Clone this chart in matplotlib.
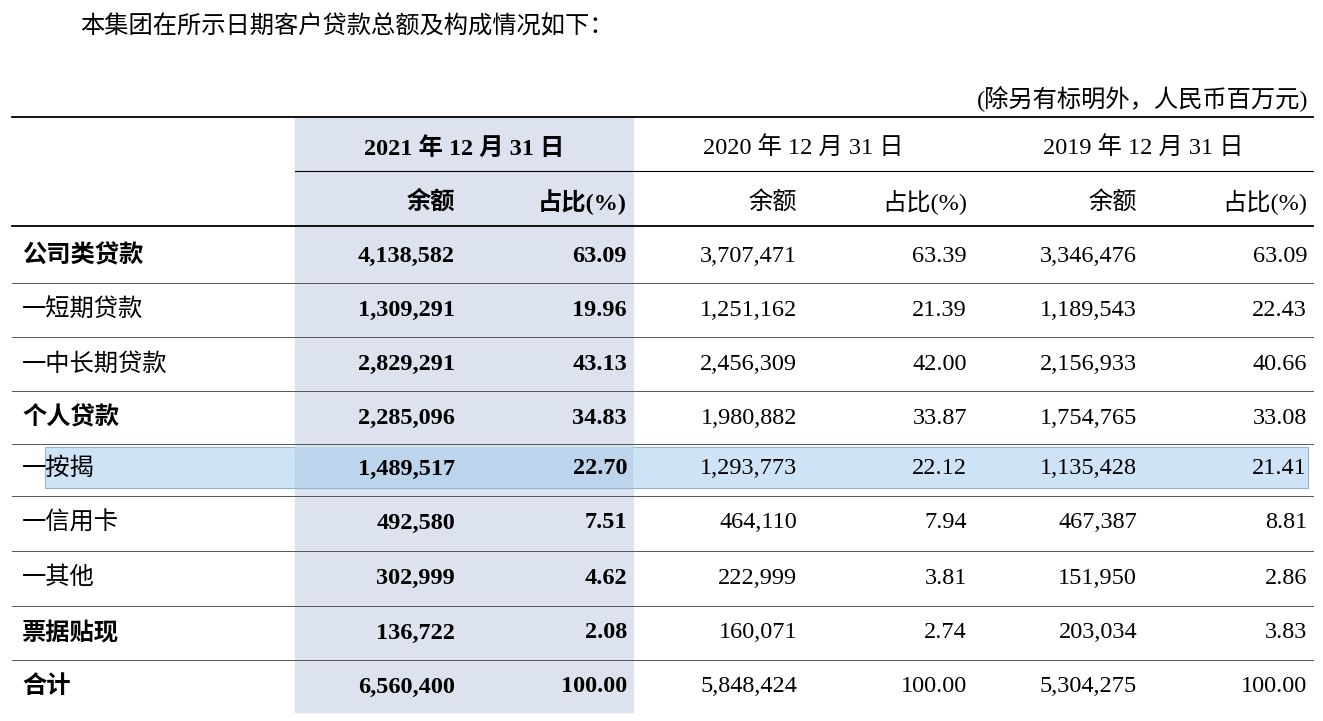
import matplotlib
matplotlib.use("Agg")
import matplotlib.pyplot as plt
from matplotlib.patches import Rectangle

plt.rcParams["font.family"] = ["Liberation Serif", "Noto Sans CJK SC"]

title = "本集团在所示日期客户贷款总额及构成情况如下："
unit = "(除另有标明外，人民币百万元)"
years = ["2021 年 12 月 31 日", "2020 年 12 月 31 日", "2019 年 12 月 31 日"]
subheads = ["余额", "占比(%)"]
categories = ["公司类贷款", "一短期贷款", "一中长期贷款", "个人贷款", "一按揭",
              "一信用卡", "一其他", "票据贴现", "合计"]
bold_rows = [True, False, False, True, False, False, False, True, True]
amt_2021 = ["4,138,582", "1,309,291", "2,829,291", "2,285,096", "1,489,517", "492,580", "302,999", "136,722", "6,560,400"]
pct_2021 = ["63.09", "19.96", "43.13", "34.83", "22.70", "7.51", "4.62", "2.08", "100.00"]
amt_2020 = ["3,707,471", "1,251,162", "2,456,309", "1,980,882", "1,293,773", "464,110", "222,999", "160,071", "5,848,424"]
pct_2020 = ["63.39", "21.39", "42.00", "33.87", "22.12", "7.94", "3.81", "2.74", "100.00"]
amt_2019 = ["3,346,476", "1,189,543", "2,156,933", "1,754,765", "1,135,428", "467,387", "151,950", "203,034", "5,304,275"]
pct_2019 = ["63.09", "22.43", "40.66", "33.08", "21.41", "8.81", "2.86", "3.83", "100.00"]

W, H = 1323, 721
fig = plt.figure(figsize=(W / 100, H / 100), dpi=100)
ax = fig.add_axes([0, 0, 1, 1])
ax.set_xlim(0, W)
ax.set_ylim(H, 0)
ax.axis("off")

fs = 17.5
ax.text(80, 27, title, fontsize=fs, va="center", ha="left")
ax.text(1308, 99, unit, fontsize=fs, va="center", ha="right")

ax.add_patch(Rectangle((295, 117), 338, 595, color="#dde3ee", zorder=0))
ax.add_patch(Rectangle((45, 447), 1263, 41, facecolor="#cfe3f6", edgecolor="#8fb3d9", lw=0.8, zorder=1))
ax.add_patch(Rectangle((295, 447), 338, 41, facecolor="#bcd4ec", edgecolor="none", zorder=1))

ax.plot([12, 1313], [117, 117], color="black", lw=1.3)
ax.plot([295, 1313], [171, 171], color="black", lw=0.8)
ax.plot([12, 1313], [226, 226], color="black", lw=1.3)
row_y = [256, 310, 364, 418, 469, 523, 578, 633, 687]
for i in range(len(categories) - 1):
    yl = (row_y[i] + row_y[i + 1]) / 2
    ax.plot([12, 1313], [yl, yl], color="#555555", lw=0.7)

centers = [464, 803, 1143]
for j, yr in enumerate(years):
    ax.text(centers[j], 148, yr, fontsize=fs, ha="center", va="center",
            fontweight="bold" if j == 0 else "normal")
right_edges = [455, 627, 797, 967, 1137, 1307]
for k, xr in enumerate(right_edges):
    ax.text(xr, 202, subheads[k % 2], fontsize=fs, ha="right", va="center",
            fontweight="bold" if k < 2 else "normal")

cols = [amt_2021, pct_2021, amt_2020, pct_2020, amt_2019, pct_2019]
for i, cat in enumerate(categories):
    y = row_y[i]
    ax.text(22, y, cat, fontsize=fs, ha="left", va="center",
            fontweight="bold" if bold_rows[i] else "normal", zorder=3)
    for k, col in enumerate(cols):
        ax.text(right_edges[k], y, col[i], fontsize=fs, ha="right", va="center",
                fontweight="bold" if k < 2 else "normal", zorder=3)

fig.savefig("out.png", dpi=100)
